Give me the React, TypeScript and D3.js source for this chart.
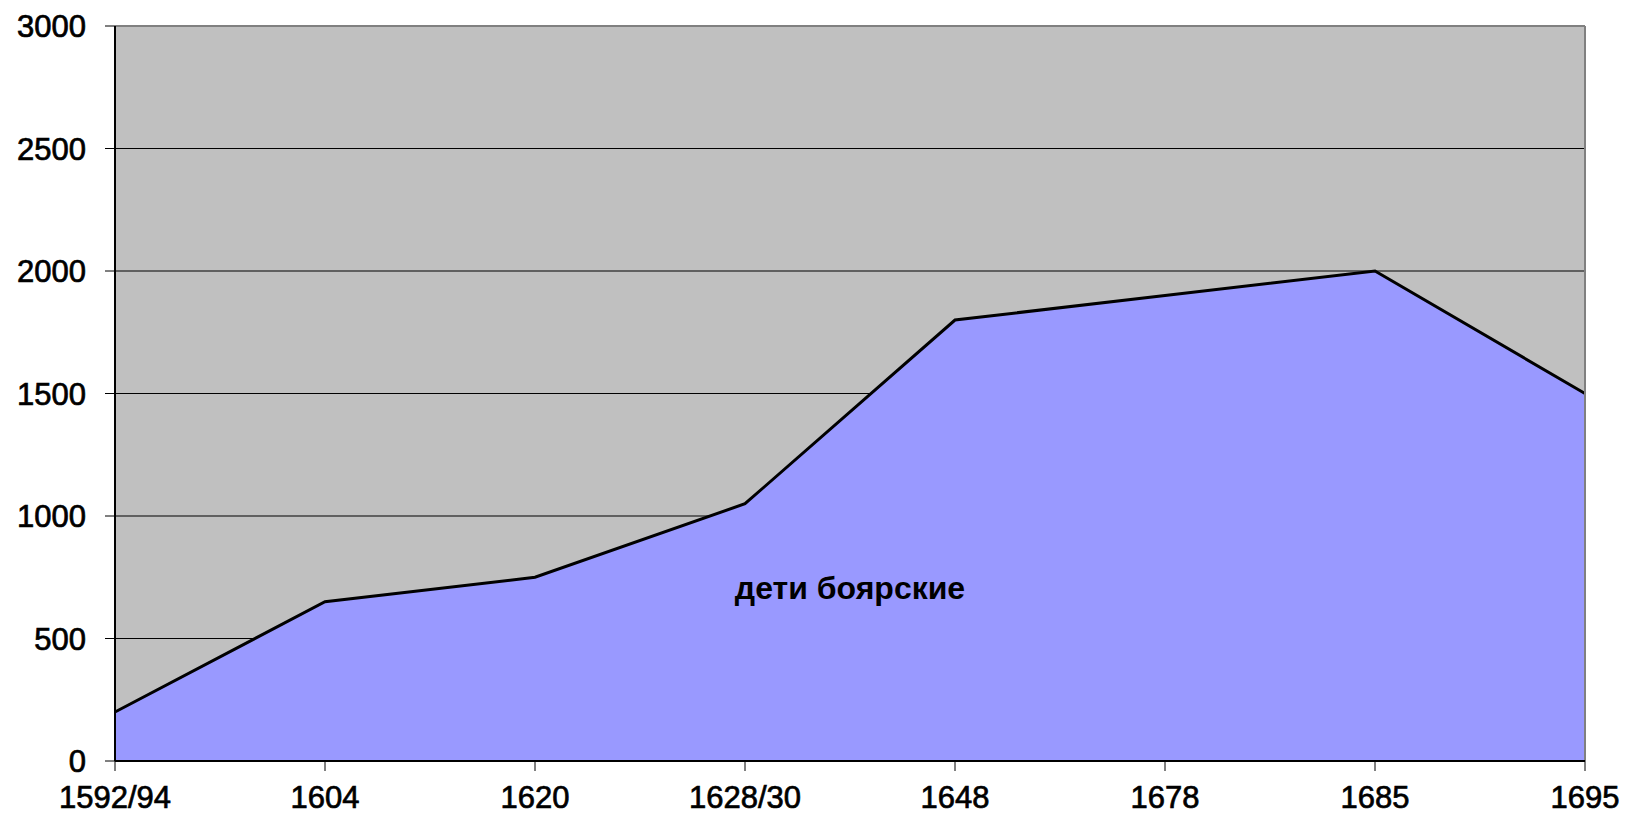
import React from "react";
import * as d3 from "d3";

const years = ["1592/94", "1604", "1620", "1628/30", "1648", "1678", "1685", "1695"];
const values = [200, 650, 750, 1050, 1800, 1900, 2000, 1500];
const yTicks = [0, 500, 1000, 1500, 2000, 2500, 3000];
const seriesLabel = "дети боярские";

const width = 1628;
const height = 818;
const margin = { left: 115, right: 43, top: 26, bottom: 57 };

export default function App() {
  const x = d3
    .scalePoint<string>()
    .domain(years)
    .range([margin.left, width - margin.right]);
  const y = d3
    .scaleLinear()
    .domain([0, 3000])
    .range([height - margin.bottom, margin.top]);

  const pts: [number, number][] = years.map((yr, i) => [x(yr)!, y(values[i])]);

  const area = d3
    .area<[number, number]>()
    .x((d) => d[0])
    .y0(y(0))
    .y1((d) => d[1])(pts);
  const line = d3.line()(pts);

  const x0 = margin.left;
  const x1 = width - margin.right;
  const yTop = y(3000);
  const yBot = y(0);

  // tick labels are a bit heavier than regular weight in the source
  const tickText = { fontSize: 31, fill: "#000", stroke: "#000", strokeWidth: 0.7 };

  return (
    <svg
      width={width}
      height={height}
      style={{ position: "absolute", left: 0, top: 0, fontFamily: "'Liberation Sans', Arial, sans-serif" }}
    >
      <rect x={0} y={0} width={width} height={height} fill="#fff" />
      <rect x={x0} y={yTop} width={x1 - x0} height={yBot - yTop} fill="#c0c0c0" />
      {yTicks.slice(1, -1).map((t) => (
        <line key={t} x1={x0} x2={x1} y1={y(t)} y2={y(t)} stroke="#000" strokeWidth={1} />
      ))}
      <path d={area!} fill="#9999ff" />
      <path d={line!} fill="none" stroke="#000" strokeWidth={3} strokeLinejoin="miter" />
      {/* plot border */}
      <line x1={x0} x2={x1} y1={yTop} y2={yTop} stroke="#808080" strokeWidth={2} />
      <line x1={x1} x2={x1} y1={yTop} y2={yBot} stroke="#808080" strokeWidth={2} />
      {/* axes */}
      <line x1={x0} x2={x0} y1={yTop} y2={yBot} stroke="#000" strokeWidth={2} />
      <line x1={x0} x2={x1} y1={yBot} y2={yBot} stroke="#000" strokeWidth={2} />
      {yTicks.map((t) => (
        <g key={t}>
          <line x1={x0 - 10} x2={x0} y1={y(t)} y2={y(t)} stroke="#000" strokeWidth={1} />
          <text x={86} y={y(t)} dy="0.36em" textAnchor="end" {...tickText}>
            {t}
          </text>
        </g>
      ))}
      {years.map((yr) => (
        <g key={yr}>
          <line x1={x(yr)} x2={x(yr)} y1={yBot} y2={yBot + 10} stroke="#000" strokeWidth={1} />
          <text x={x(yr)} y={808} textAnchor="middle" {...tickText}>
            {yr}
          </text>
        </g>
      ))}
      <text x={850} y={599} textAnchor="middle" fontSize={32} fontWeight="bold" fill="#000">
        {seriesLabel}
      </text>
    </svg>
  );
}
